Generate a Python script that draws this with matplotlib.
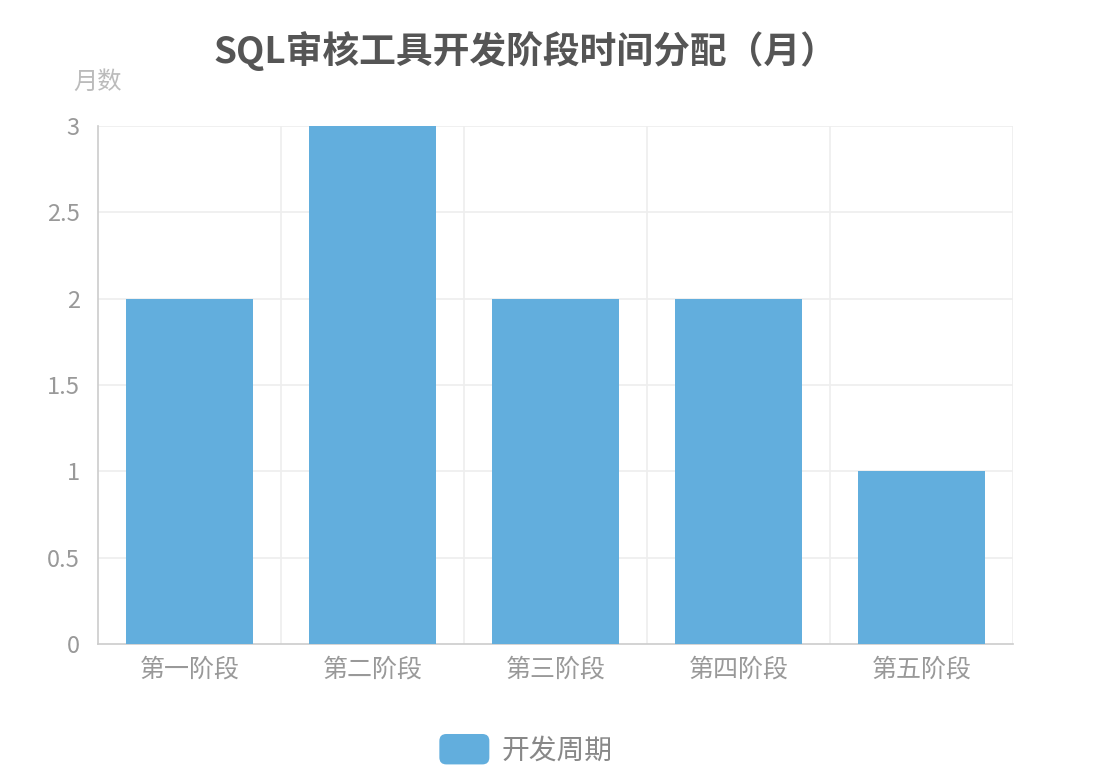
import matplotlib
matplotlib.use("Agg")
import matplotlib.pyplot as plt
from matplotlib.patches import FancyBboxPatch, Patch
from matplotlib.legend_handler import HandlerPatch

plt.rcParams['font.family'] = ['Noto Sans CJK SC', 'DejaVu Sans']

# Data
stages = ["第一阶段", "第二阶段", "第三阶段", "第四阶段", "第五阶段"]
months = [2, 3, 2, 2, 1]
yticks = [0, 0.5, 1, 1.5, 2, 2.5, 3]
ytick_labels = ["0", "0.5", "1", "1.5", "2", "2.5", "3"]
series_name = "开发周期"

bar_color = "#62AEDD"


class RoundedHandler(HandlerPatch):
    def create_artists(self, legend, orig_handle, xdescent, ydescent,
                       width, height, fontsize, trans):
        p = FancyBboxPatch((-xdescent + 2, -ydescent - 2), width - 4, height + 4,
                           boxstyle="round,pad=0,rounding_size=5",
                           facecolor=bar_color, edgecolor="none",
                           transform=trans)
        return [p]


fig = plt.figure(figsize=(11.07, 7.82), dpi=100)
ax = fig.add_axes([0.0885, 0.1765, 0.8266, 0.6624])

x = range(len(stages))
ax.bar(x, months, width=0.69, color=bar_color, zorder=3)

ax.set_xlim(-0.5, len(stages) - 0.5)
ax.set_ylim(0, 3)
ax.set_yticks(yticks)
ax.set_yticklabels(ytick_labels)
ax.set_xticks(list(x))
ax.set_xticklabels(stages)

# grid lines: horizontal at ticks, vertical at category boundaries
for y in yticks[1:]:
    ax.axhline(y, color="#eeeeee", lw=1.2, zorder=1)
for b in [i + 0.5 for i in range(len(stages))]:
    ax.axvline(b, color="#eeeeee", lw=1.2, zorder=1)

for s in ["top", "right"]:
    ax.spines[s].set_visible(False)
ax.spines["left"].set_color("#cccccc")
ax.spines["bottom"].set_color("#cccccc")
ax.spines["left"].set_linewidth(1.2)
ax.spines["bottom"].set_linewidth(1.2)

ax.tick_params(axis="x", length=0, colors="#999999", labelsize=18, pad=9)
ax.tick_params(axis="y", length=0, colors="#999999", labelsize=17, pad=13)

fig.text(0.4745, 0.935, "SQL审核工具开发阶段时间分配（月）", ha="center", va="center",
         fontsize=26.5, fontweight="bold", color="#555555")
fig.text(0.088, 0.895, "月数", ha="center", va="center", fontsize=17.5, color="#bbbbbb")

fig.legend(handles=[Patch(facecolor=bar_color, label=series_name)],
           handler_map={Patch: RoundedHandler()},
           loc="center", bbox_to_anchor=(0.474, 0.04), frameon=False,
           fontsize=20, labelcolor="#888888", handlelength=2.0, handleheight=1.0,
           handletextpad=0.35)

fig.savefig("out.png", dpi=100, facecolor="white")
